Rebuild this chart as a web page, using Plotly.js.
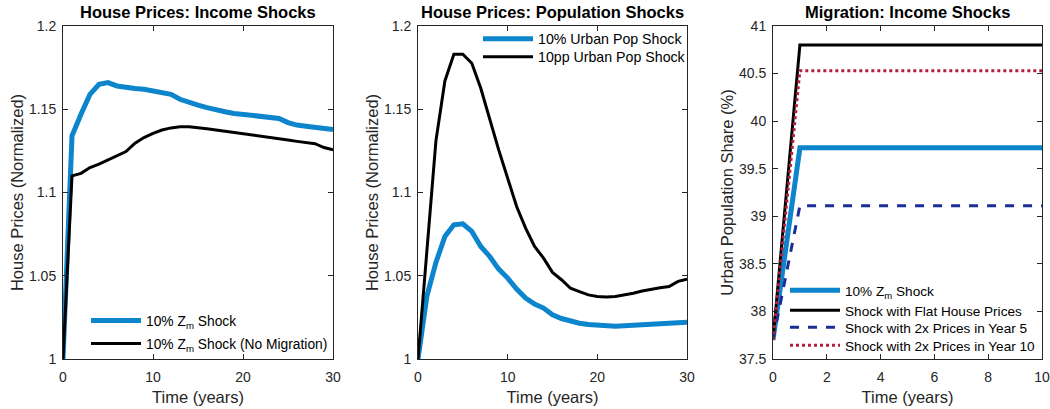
<!DOCTYPE html>
<html>
<head>
<meta charset="utf-8">
<script src="https://cdn.plot.ly/plotly-3.0.1.min.js"></script>
<style>html,body{margin:0;padding:0;background:#fff;}#chart{width:1050px;height:409px;}</style>
</head>
<body>
<div id="chart"></div>
<script>
// ---- Data ----
const years30 = [0,1,2,3,4,5,6,7,8,9,10,11,12,13,14,15,16,17,18,19,20,21,22,23,24,25,26,27,28,29,30];
const years10 = [0,1,2,3,4,5,6,7,8,9,10];

// Panel 1: House Prices, Income Shocks
const incomeShock = [1.000,1.134,1.147,1.159,1.165,1.166,1.164,1.163,1.1625,1.162,1.161,1.160,1.159,1.156,1.154,1.1525,1.151,1.1495,1.1485,1.1475,1.1468,1.146,1.1455,1.145,1.1445,1.142,1.1405,1.1398,1.139,1.1385,1.1378];
const incomeShockNoMig = [1.000,1.110,1.1115,1.115,1.117,1.1195,1.122,1.1246,1.1296,1.133,1.1355,1.1375,1.1388,1.1395,1.1395,1.139,1.1383,1.1375,1.1368,1.136,1.135,1.1343,1.1336,1.133,1.1323,1.1315,1.1307,1.130,1.1293,1.127,1.1256];

// Panel 2: House Prices, Population Shocks
const popShock10pct = [1.000,1.038,1.058,1.0736,1.0806,1.0812,1.0766,1.0676,1.0616,1.054,1.0486,1.042,1.0366,1.033,1.0306,1.0266,1.0243,1.0226,1.0215,1.0207,1.0202,1.0197,1.0197,1.0199,1.0202,1.0206,1.0211,1.0214,1.0216,1.0218,1.022];
const popShock10pp = [1.000,1.066,1.131,1.167,1.183,1.183,1.1776,1.1626,1.1436,1.1256,1.1086,1.0916,1.0786,1.0676,1.0606,1.052,1.0476,1.0425,1.0405,1.0385,1.0376,1.0372,1.0375,1.0383,1.0395,1.0408,1.042,1.0428,1.0435,1.0466,1.048];

// Panel 3: Migration, Income Shocks (urban population share, %)
const migZm = [37.7,39.72,39.72,39.72,39.72,39.72,39.72,39.72,39.72,39.72,39.72];
const migFlat = [37.7,40.80,40.80,40.80,40.80,40.80,40.80,40.80,40.80,40.80,40.80];
const migYear5 = [37.7,39.11,39.11,39.11,39.11,39.11,39.11,39.11,39.11,39.11,39.11];
const migYear10 = [37.7,40.53,40.53,40.53,40.53,40.53,40.53,40.53,40.53,40.53,40.53];

const names1 = ['10% Z<sub>m</sub> Shock', '10% Z<sub>m</sub> Shock (No Migration)'];
const names2 = ['10% Urban Pop Shock', '10pp Urban Pop Shock'];
const names3 = ['10% Z<sub>m</sub> Shock', 'Shock with Flat House Prices', 'Shock with 2x Prices in Year 5', 'Shock with 2x Prices in Year 10'];
const titles = ['House Prices: Income Shocks', 'House Prices: Population Shocks', 'Migration: Income Shocks'];

const BLUE = '#0D85CC', BLACK = '#000000', NAVY = '#1B2E95', RED = '#B3203F';
const FONT = 'Liberation Sans, Arial, Helvetica, sans-serif';
const AX = '#262626';

const traces = [
  {x: years30, y: incomeShock, name: names1[0], mode:'lines', line:{color:BLUE, width:5}, xaxis:'x', yaxis:'y', legend:'legend'},
  {x: years30, y: incomeShockNoMig, name: names1[1], mode:'lines', line:{color:BLACK, width:3}, xaxis:'x', yaxis:'y', legend:'legend2'},
  {x: years30, y: popShock10pct, name: names2[0], mode:'lines', line:{color:BLUE, width:5}, xaxis:'x2', yaxis:'y2', legend:'legend3'},
  {x: years30, y: popShock10pp, name: names2[1], mode:'lines', line:{color:BLACK, width:3}, xaxis:'x2', yaxis:'y2', legend:'legend4'},
  {x: years10, y: migZm, name: names3[0], mode:'lines', line:{color:BLUE, width:5}, xaxis:'x3', yaxis:'y3', legend:'legend5'},
  {x: years10, y: migFlat, name: names3[1], mode:'lines', line:{color:BLACK, width:3}, xaxis:'x3', yaxis:'y3', legend:'legend6'},
  {x: years10, y: migYear5, name: names3[2], mode:'lines', line:{color:NAVY, width:3, dash:'dash'}, xaxis:'x3', yaxis:'y3', legend:'legend7'},
  {x: years10, y: migYear10, name: names3[3], mode:'lines', line:{color:RED, width:3, dash:'dot'}, xaxis:'x3', yaxis:'y3', legend:'legend8'}
];

const W = 1050, H = 409;
const yDom = [1 - 359/H, 1 - 26/H];
function xax(dom, range, tickvals, anchor) {
  return {domain: dom, range: range, tickvals: tickvals, anchor: anchor,
    showgrid:false, zeroline:false, showline:true, linecolor:AX, linewidth:1, mirror:'ticks',
    ticks:'inside', ticklen:5, tickcolor:AX, ticklabelstandoff:5, tickfont:{family:FONT, size:14, color:AX},
    title:{text:'Time (years)', font:{family:FONT, size:16.5, color:AX}, standoff:7}};
}
function yax(range, tickvals, title, anchor) {
  return {domain: yDom, range: range, tickvals: tickvals, anchor: anchor,
    showgrid:false, zeroline:false, showline:true, linecolor:AX, linewidth:1, mirror:'ticks',
    ticks:'inside', ticklen:5, tickcolor:AX, ticklabelstandoff:3, tickfont:{family:FONT, size:14, color:AX},
    title:{text:title, font:{family:FONT, size:16.5, color:AX}, standoff:1}};
}
const d1 = [63/W, 333/W], d2 = [418/W, 687/W], d3 = [773/W, 1042/W];
function leg(xpx, toppx, fs) {
  return {bgcolor:'rgba(255,255,255,0)', borderwidth:0, font:{family:FONT, size:fs, color:'#000'},
    xanchor:'left', yanchor:'top', itemwidth:50, x: xpx/W, y: 1 - toppx/H};
}

const layout = {
  width: W, height: H,
  margin:{l:0, r:0, t:0, b:0},
  paper_bgcolor:'#fff', plot_bgcolor:'#fff',
  showlegend:true,
  xaxis: xax(d1, [0,30], [0,10,20,30], 'y'),
  yaxis: yax([1,1.2], [1,1.05,1.1,1.15,1.2], 'House Prices (Normalized)', 'x'),
  xaxis2: xax(d2, [0,30], [0,10,20,30], 'y2'),
  yaxis2: yax([1,1.2], [1,1.05,1.1,1.15,1.2], 'House Prices (Normalized)', 'x2'),
  xaxis3: xax(d3, [0,10], [0,2,4,6,8,10], 'y3'),
  yaxis3: yax([37.5,41], [37.5,38,38.5,39,39.5,40,40.5,41], 'Urban Population Share (%)', 'x3'),
  legend:  leg(86, 305, 13.8),
  legend2: leg(86, 328, 13.8),
  legend3: leg(478, 23, 14.2),
  legend4: leg(478, 41, 14.2),
  legend5: leg(785, 275, 13.6),
  legend6: leg(785, 295, 13.6),
  legend7: leg(785, 312, 13.6),
  legend8: leg(785, 330, 13.6),
  annotations: titles.map((t, i) => ({
    text: '<b>' + t + '</b>', xref:'paper', yref:'paper',
    x: [d1, d2, d3][i].reduce((a,b)=>a+b)/2, y: 1 - 12.5/H, xanchor:'center', yanchor:'middle',
    showarrow:false, font:{family:FONT, size:16.5, color:'#000'}
  }))
};

Plotly.newPlot('chart', traces, layout, {displayModeBar:false, staticPlot:true});
</script>
</body>
</html>
